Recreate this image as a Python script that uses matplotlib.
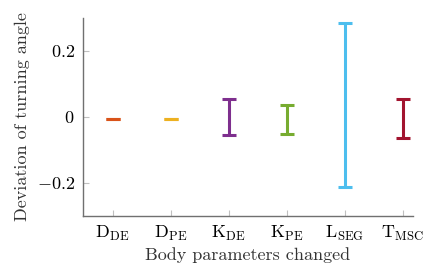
import matplotlib
matplotlib.use("Agg")
import matplotlib.pyplot as plt
import numpy as np

plt.rcParams['mathtext.fontset'] = 'cm'
plt.rcParams['font.family'] = ['cmr10', 'DejaVu Serif']
plt.rcParams['axes.formatter.use_mathtext'] = True

categories = [r'$\mathrm{D}_{\mathrm{DE}}$', r'$\mathrm{D}_{\mathrm{PE}}$', r'$\mathrm{K}_{\mathrm{DE}}$',
              r'$\mathrm{K}_{\mathrm{PE}}$', r'$\mathrm{L}_{\mathrm{SEG}}$', r'$\mathrm{T}_{\mathrm{MSC}}$']
lows = [-0.005, -0.005, -0.055, -0.052, -0.213, -0.063]
highs = [-0.005, -0.005, 0.054, 0.036, 0.286, 0.054]
colors = ['#D95319', '#EDB120', '#7E2F8E', '#77AC30', '#4DBEEE', '#A2142F']
yticks = [-0.2, 0, 0.2]
ytick_labels = [r'$-0.2$', r'$0$', r'$0.2$']

fig = plt.figure(figsize=(4.37, 2.72), dpi=100)
ax = fig.add_axes([0.19, 0.206, 0.755, 0.728])

x = np.arange(1, len(categories) + 1)
for xi, lo, hi, c in zip(x, lows, highs, colors):
    mid = (lo + hi) / 2
    err = (hi - lo) / 2
    ax.errorbar([xi], [mid], yerr=[[err], [err]], fmt='none', ecolor=c,
                elinewidth=2.2, capsize=5, capthick=2.2)

ax.set_xlim(0.49, 6.18)
ax.set_ylim(-0.3, 0.3)
ax.set_xticks(x)
ax.set_xticklabels(categories, fontsize=13)
ax.set_yticks(yticks)
ax.set_yticklabels(ytick_labels, fontsize=13)
ax.tick_params(direction='in', length=4, color='#c0c0c0', width=0.8, pad=6)
for s in ['top', 'right']:
    ax.spines[s].set_visible(False)
for s in ['left', 'bottom']:
    ax.spines[s].set_color('#707070')
    ax.spines[s].set_linewidth(1.0)
ax.set_xlabel('Body parameters changed', fontsize=13, color='#333333', labelpad=3)
ax.set_ylabel('Deviation of turning angle', fontsize=13, color='#333333', labelpad=5)

fig.savefig('out.png', dpi=100)
